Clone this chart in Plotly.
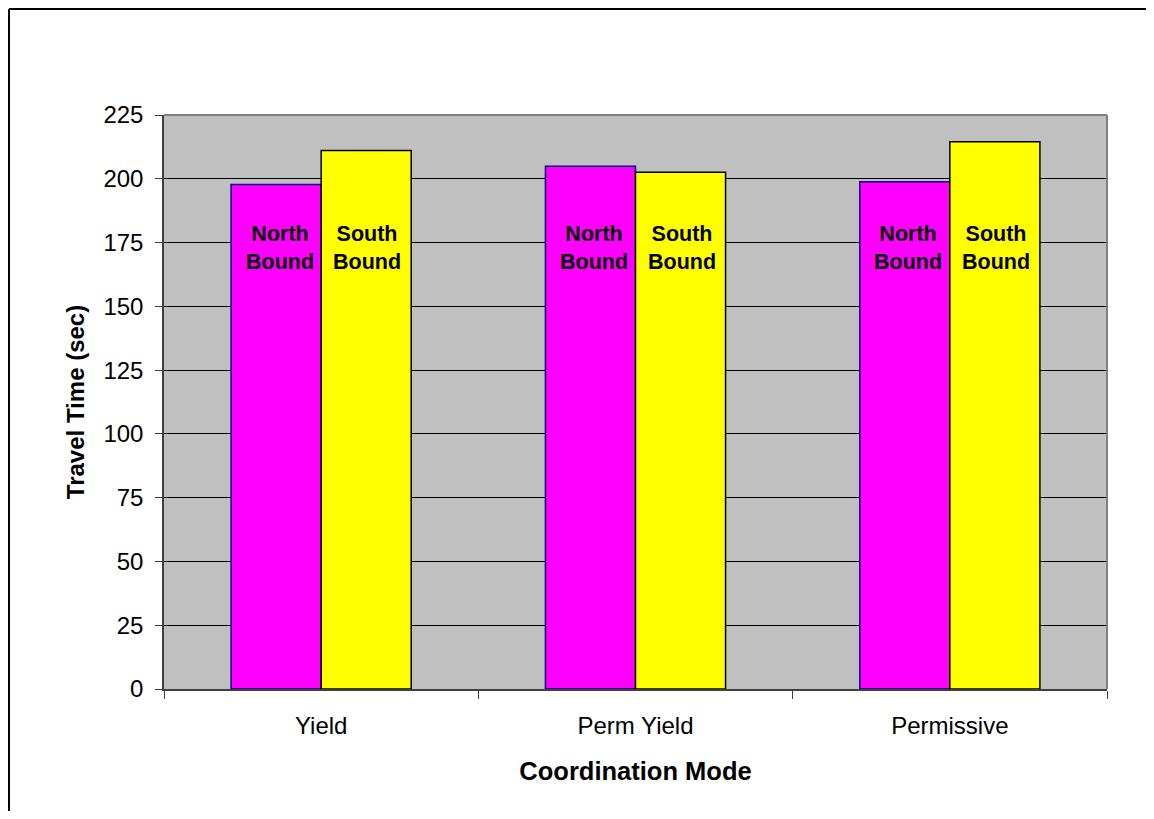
import plotly.graph_objects as go

categories = ["Yield", "Perm Yield", "Permissive"]
north_bound = [197.8, 204.9, 198.8]
south_bound = [211.1, 202.6, 214.5]
y_ticks = [0, 25, 50, 75, 100, 125, 150, 175, 200, 225]
label_y = 173

# page body has an 8px default margin; size the figure to fit the window
W, H = 1138, 803
ml, mt = 156, 107
plot_right, plot_bottom = 1099, 681
mr, mb = W - plot_right, H - plot_bottom
pw, ph = plot_right - ml, plot_bottom - mt

fig = go.Figure()
fig.add_trace(go.Bar(x=categories, y=north_bound, name="North Bound",
                     marker=dict(color="#FF00FF", line=dict(color="#000080", width=1.5))))
fig.add_trace(go.Bar(x=categories, y=south_bound, name="South Bound",
                     marker=dict(color="#FFFF00", line=dict(color="#000000", width=1.5))))

font_fam = "Liberation Sans, Arial, sans-serif"
for c in categories:
    fig.add_annotation(x=c, y=label_y, xref="x", yref="y", text="<b>North<br>Bound</b>",
                       showarrow=False, xshift=-41.5, yanchor="middle",
                       font=dict(family=font_fam, size=21.5, color="black"))
    fig.add_annotation(x=c, y=label_y, xref="x", yref="y", text="<b>South<br>Bound</b>",
                       showarrow=False, xshift=46, yanchor="middle",
                       font=dict(family=font_fam, size=21.5, color="black"))

# outer chart frame (only left and top edges visible in the picture)
fx0 = (1 - ml) / pw
fy1 = (plot_bottom - 1) / ph
fig.add_shape(type="line", xref="paper", yref="paper",
              x0=fx0, x1=fx0, y0=-(H - plot_bottom) / ph, y1=fy1,
              line=dict(color="black", width=2), layer="above")
fig.add_shape(type="line", xref="paper", yref="paper",
              x0=fx0, x1=(W - ml) / pw, y0=fy1, y1=fy1,
              line=dict(color="black", width=2), layer="above")
# plot area border top & right (gray)
fig.add_shape(type="line", xref="paper", yref="paper", x0=0, x1=1, y0=1, y1=1,
              line=dict(color="#808080", width=2))
fig.add_shape(type="line", xref="paper", yref="paper", x0=1, x1=1, y0=0, y1=1,
              line=dict(color="#808080", width=2))

fig.update_layout(
    width=W, height=H,
    margin=dict(l=ml, r=mr, t=mt, b=mb, autoexpand=False),
    paper_bgcolor="white", plot_bgcolor="#C0C0C0",
    barmode="group", bargap=0.427, bargroupgap=0,
    showlegend=False,
    font=dict(family=font_fam, color="black"),
    xaxis=dict(
        type="category", tickson="boundaries", ticks="outside", ticklen=8,
        tickcolor="#404040", showline=True, linecolor="#404040", linewidth=1.5,
        tickfont=dict(size=24), ticklabelstandoff=14,
        title=dict(text="<b>Coordination Mode</b>", font=dict(size=25.5), standoff=25),
        showgrid=False,
    ),
    yaxis=dict(
        range=[0, 225], tickvals=y_ticks, ticks="outside", ticklen=7,
        tickcolor="#404040", showline=True, linecolor="#404040", linewidth=1.5,
        tickfont=dict(size=24), ticklabelstandoff=7,
        showgrid=True, gridcolor="black", gridwidth=1, zeroline=False,
        title=dict(text="<b>Travel Time (sec)</b>", font=dict(size=24), standoff=12),
    ),
)

fig.write_html("out.html")
